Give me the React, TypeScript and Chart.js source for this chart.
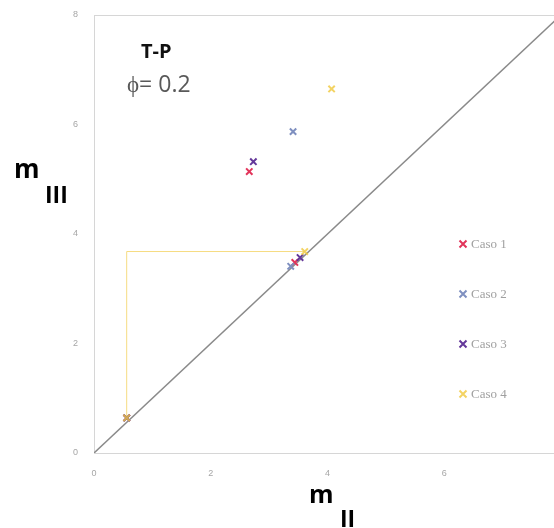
import React, { useEffect, useRef } from "react";
import { Chart, registerables } from "chart.js";

Chart.register(...registerables);

// Axis ticks
const tickValues = [0, 2, 4, 6, 8];

// Series labels and colours
const seriesLabels = ["Caso 1", "Caso 2", "Caso 3", "Caso 4"];
const seriesColors = ["#e2345a", "#7f90c0", "#64389a", "rgba(240,200,60,0.8)"];

// Measured points per case (mII, mIII)
const caso1X = [0.56, 3.44, 2.66];
const caso1Y = [0.64, 3.48, 5.14];
const caso2X = [0.56, 3.37, 3.41];
const caso2Y = [0.64, 3.41, 5.87];
const caso3X = [0.56, 3.53, 2.73];
const caso3Y = [0.64, 3.57, 5.32];
const caso4X = [0.56, 3.61, 4.07];
const caso4Y = [0.64, 3.68, 6.65];

// Guide path for case 4 and the identity line
const guideX = [0.56, 0.56, 3.61];
const guideY = [0.64, 3.68, 3.68];
const diagX = [0, 8];
const diagY = [0, 8];

const xs = [caso1X, caso2X, caso3X, caso4X];
const ys = [caso1Y, caso2Y, caso3Y, caso4Y];

const toPts = (x: number[], y: number[]) => x.map((v, i) => ({ x: v, y: y[i] }));

const overlay = {
  id: "overlay",
  beforeDatasetsDraw(chart: any) {
    const { ctx, chartArea } = chart;
    ctx.save();
    ctx.strokeStyle = "#d6d6d6";
    ctx.lineWidth = 1;
    ctx.strokeRect(chartArea.left + 0.5, chartArea.top + 0.5, chartArea.right - chartArea.left, chartArea.bottom - chartArea.top);
    ctx.restore();
  },
  afterDraw(chart: any) {
    const { ctx } = chart;
    ctx.save();
    ctx.textBaseline = "alphabetic";
    ctx.textAlign = "left";

    // Panel label
    ctx.fillStyle = "#111";
    ctx.font = "bold 20px 'Open Sans'";
    ctx.fillText("T-P", 141, 58);
    ctx.fillStyle = "#595959";
    ctx.font = "23px 'Open Sans'";
    ctx.fillText("ϕ= 0.2", 127, 92);

    // Axis titles
    ctx.fillStyle = "#000";
    ctx.font = "bold 26px 'Open Sans'";
    ctx.fillText("m", 14, 178);
    ctx.font = "bold 25px 'Open Sans'";
    ctx.fillText("m", 309, 503);
    ctx.font = "bold 23px 'Open Sans'";
    ctx.fillText("III", 45, 203);
    ctx.fillText("II", 340, 527);

    // Legend
    ctx.font = "13px 'Liberation Serif'";
    seriesLabels.forEach((label, i) => {
      const y = 244 + i * 50;
      const x = 463;
      ctx.strokeStyle = seriesColors[i];
      ctx.lineWidth = 2;
      ctx.beginPath();
      ctx.moveTo(x - 3.5, y - 3.5);
      ctx.lineTo(x + 3.5, y + 3.5);
      ctx.moveTo(x + 3.5, y - 3.5);
      ctx.lineTo(x - 3.5, y + 3.5);
      ctx.stroke();
      ctx.fillStyle = "#a0a0a0";
      ctx.textBaseline = "middle";
      ctx.fillText(label, 471, y + 1);
    });
    ctx.restore();
  },
};

export default function App() {
  const ref = useRef<HTMLCanvasElement>(null);

  useEffect(() => {
    if (!ref.current) return;
    const scatterSets = seriesLabels.map((label, i) => ({
      type: "scatter" as const,
      label,
      data: toPts(xs[i], ys[i]),
      pointStyle: "crossRot",
      pointRadius: 4.5,
      pointBorderWidth: 2,
      borderColor: seriesColors[i],
      backgroundColor: seriesColors[i],
      order: 4 - i,
    }));
    const chart = new Chart(ref.current, {
      type: "scatter",
      data: {
        datasets: [
          {
            type: "line",
            label: "diag",
            data: toPts(diagX, diagY),
            borderColor: "#8a8a8a",
            borderWidth: 1.5,
            pointRadius: 0,
            order: 6,
          } as any,
          {
            type: "line",
            label: "guide",
            data: toPts(guideX, guideY),
            borderColor: "#f6dc82",
            borderWidth: 1,
            pointRadius: 0,
            order: 5,
          } as any,
          ...scatterSets,
        ],
      },
      options: {
        responsive: false,
        animation: false,
        devicePixelRatio: 1,
        layout: { padding: { top: 15, right: 9, left: 0, bottom: 0 } },
        plugins: { legend: { display: false }, tooltip: { enabled: false } },
        scales: {
          x: {
            type: "linear",
            min: 0,
            max: 8,
            afterBuildTicks: (s: any) => { s.ticks = tickValues.map((v) => ({ value: v })); },
            afterFit: (s: any) => { s.height = 75; s.paddingLeft = 0; s.paddingRight = 0; },
            ticks: { font: { size: 9, family: "'Liberation Sans'" }, color: "#a6a6a6", padding: 15 },
            grid: { display: false, drawTicks: false },
            border: { display: false },
          },
          y: {
            type: "linear",
            min: 0,
            max: 8,
            afterBuildTicks: (s: any) => { s.ticks = tickValues.map((v) => ({ value: v })); },
            afterFit: (s: any) => { s.width = 94; s.paddingTop = 0; s.paddingBottom = 0; },
            ticks: { font: { size: 9, family: "'Liberation Sans'" }, color: "#a6a6a6", padding: 16 },
            grid: { display: false, drawTicks: false },
            border: { display: false },
          },
        },
      },
      plugins: [overlay],
    } as any);
    return () => chart.destroy();
  }, []);

  return (
    <div style={{ position: "fixed", left: 0, top: 0, width: 554, height: 528, overflow: "hidden", background: "#fff" }}>
      <canvas ref={ref} width={570} height={528} style={{ display: "block", width: 570, height: 528 }} />
    </div>
  );
}
